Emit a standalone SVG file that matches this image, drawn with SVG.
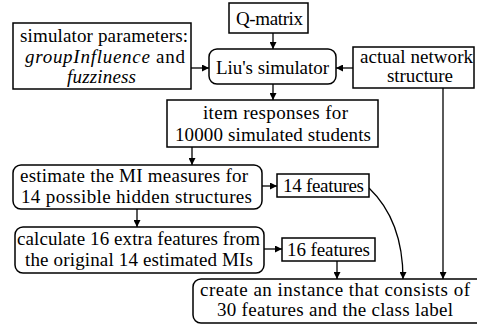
<svg xmlns="http://www.w3.org/2000/svg" width="477" height="325" viewBox="0 0 477 325">
<defs>
<marker id="a" viewBox="0 0 10 10" refX="10" refY="5" markerWidth="7" markerHeight="7" markerUnits="userSpaceOnUse" orient="auto">
<path d="M0,0L10,5L0,10z" fill="#000"/>
</marker>
</defs>
<rect width="477" height="325" fill="#fff"/>
<g id="connectors" fill="none" stroke="#000" stroke-width="1.3">
<line x1="273" y1="33" x2="273" y2="49" marker-end="url(#a)"/>
<line x1="191" y1="68" x2="209" y2="68" marker-end="url(#a)"/>
<line x1="353" y1="68" x2="336" y2="68" marker-end="url(#a)"/>
<line x1="273" y1="84" x2="273" y2="100" marker-end="url(#a)"/>
<line x1="443" y1="88" x2="443" y2="279" marker-end="url(#a)"/>
<line x1="192" y1="147" x2="192" y2="165" marker-end="url(#a)"/>
<line x1="262" y1="186" x2="277" y2="186" marker-end="url(#a)"/>
<line x1="137" y1="209" x2="137" y2="227" marker-end="url(#a)"/>
<line x1="264" y1="249" x2="282" y2="249" marker-end="url(#a)"/>
<line x1="337" y1="261" x2="337" y2="279" marker-end="url(#a)"/>
<path d="M369,188 C392,210 403,240 403,279" marker-end="url(#a)"/>
</g>
<g id="qmatrix">
<rect fill="#fff" stroke="#000" stroke-width="1.5" x="229" y="3" width="79" height="30"/>
<text style="font-family:'Liberation Serif';font-size:19px" x="236" y="25" textLength="67" lengthAdjust="spacing">Q-matrix</text>
</g>
<g id="params">
<rect fill="#fff" stroke="#000" stroke-width="1.5" x="13" y="23" width="178" height="66"/>
<text style="font-family:'Liberation Serif';font-size:19px" x="20" y="42" textLength="168" lengthAdjust="spacing">simulator parameters:</text>
<text style="font-family:'Liberation Serif';font-size:19px" x="25" y="63" textLength="160" lengthAdjust="spacing"><tspan style="font-style:italic">groupInfluence</tspan> and</text>
<text style="font-family:'Liberation Serif';font-size:19px;font-style:italic" x="67" y="83" textLength="69" lengthAdjust="spacing">fuzziness</text>
</g>
<g id="liu">
<rect fill="#fff" stroke="#000" stroke-width="1.5" x="209" y="49" width="127" height="35" rx="8"/>
<text style="font-family:'Liberation Serif';font-size:19px" x="216" y="74" textLength="113" lengthAdjust="spacing">Liu's simulator</text>
</g>
<g id="network">
<rect fill="#fff" stroke="#000" stroke-width="1.5" x="353" y="47" width="121" height="41"/>
<text style="font-family:'Liberation Serif';font-size:19px" x="360" y="63" textLength="113" lengthAdjust="spacing">actual network</text>
<text style="font-family:'Liberation Serif';font-size:19px" x="387" y="82" textLength="66" lengthAdjust="spacing">structure</text>
</g>
<g id="responses">
<rect fill="#fff" stroke="#000" stroke-width="1.5" x="167" y="100" width="211" height="47"/>
<text style="font-family:'Liberation Serif';font-size:19px" x="203" y="119" textLength="145" lengthAdjust="spacing">item responses for</text>
<text style="font-family:'Liberation Serif';font-size:19px" x="175" y="141" textLength="196" lengthAdjust="spacing">10000 simulated students</text>
</g>
<g id="estimate">
<rect fill="#fff" stroke="#000" stroke-width="1.5" x="13" y="165" width="249" height="44" rx="8"/>
<text style="font-family:'Liberation Serif';font-size:19px" x="20" y="182" textLength="228" lengthAdjust="spacing">estimate the MI measures for</text>
<text style="font-family:'Liberation Serif';font-size:19px" x="21" y="203" textLength="231" lengthAdjust="spacing">14 possible hidden structures</text>
</g>
<g id="f14">
<rect fill="#fff" stroke="#000" stroke-width="1.5" x="277" y="174" width="92" height="23"/>
<text style="font-family:'Liberation Serif';font-size:19px" x="283" y="192" textLength="81" lengthAdjust="spacing">14 features</text>
</g>
<g id="calculate">
<rect fill="#fff" stroke="#000" stroke-width="1.5" x="15" y="227" width="249" height="46" rx="8"/>
<text style="font-family:'Liberation Serif';font-size:19px" x="17" y="245" textLength="243" lengthAdjust="spacing">calculate 16 extra features from</text>
<text style="font-family:'Liberation Serif';font-size:19px" x="25" y="266" textLength="228" lengthAdjust="spacing">the original 14 estimated MIs</text>
</g>
<g id="f16">
<rect fill="#fff" stroke="#000" stroke-width="1.5" x="282" y="238" width="93" height="23"/>
<text style="font-family:'Liberation Serif';font-size:19px" x="287" y="256" textLength="83" lengthAdjust="spacing">16 features</text>
</g>
<g id="create">
<rect fill="#fff" stroke="#000" stroke-width="1.5" x="193" y="279" width="300" height="44" rx="8"/>
<text style="font-family:'Liberation Serif';font-size:19px" x="200" y="296" textLength="270" lengthAdjust="spacing">create an instance that consists of</text>
<text style="font-family:'Liberation Serif';font-size:19px" x="217" y="316" textLength="236" lengthAdjust="spacing">30 features and the class label</text>
</g>
</svg>
